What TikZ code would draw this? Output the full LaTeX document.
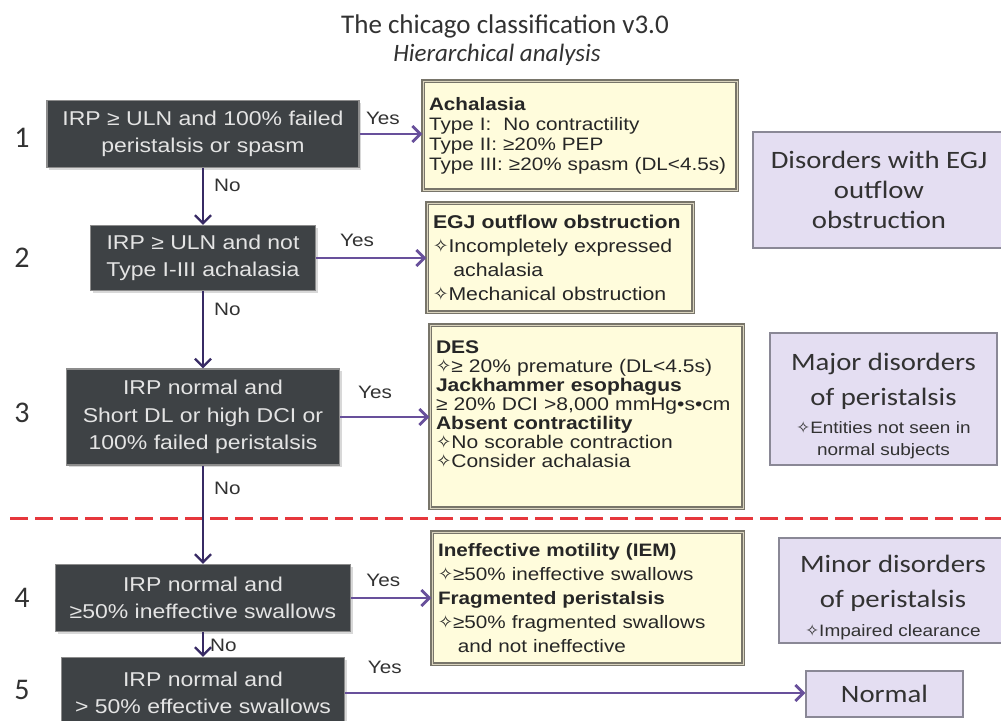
\documentclass[tikz,border=0pt]{standalone}
\usepackage{fontspec}
\setmainfont[FakeStretch=1.15]{Liberation Sans}
\newfontfamily\calfont[FakeStretch=1.15]{Carlito}
\newfontfamily\headfont{Carlito}
\newfontfamily\symfont{DejaVu Sans}
\usetikzlibrary{arrows.meta,shadows}

\definecolor{qfill}{RGB}{62,66,69}
\definecolor{qrim}{RGB}{140,140,140}
\definecolor{qtext}{RGB}{228,228,228}
\definecolor{rfill}{RGB}{255,252,220}
\definecolor{rrim}{RGB}{120,117,106}
\definecolor{rinner}{RGB}{218,212,190}
\definecolor{gfill}{RGB}{228,222,242}
\definecolor{grim}{RGB}{138,136,150}
\definecolor{yescol}{RGB}{104,80,155}
\definecolor{nocol}{RGB}{55,42,100}
\definecolor{inkgray}{RGB}{50,50,50}
\definecolor{cutred}{RGB}{230,55,60}

\newcommand{\sbul}{{\symfont ✧}}
\newcommand{\smallnote}{\rmfamily\fontsize{16.5}{21}\selectfont}

\begin{document}
\begin{tikzpicture}[x=1pt, y=-1pt,
    question/.style={fill=qfill, draw=qrim, line width=1.5pt, text=qtext, align=center,
        font=\fontsize{20}{27.5}\selectfont,
        drop shadow={shadow xshift=2pt, shadow yshift=-2pt, opacity=0.3}},
    result/.style={fill=rfill, draw=rrim, line width=1.2pt, double=rinner, double distance=1pt,
        text=black!85, align=left, inner xsep=6pt},
    group/.style={fill=gfill, draw=grim, line width=1.5pt, text=inkgray, align=center,
        font=\calfont\fontsize{25}{35}\selectfont},
    yesarrow/.style={-{Straight Barb[length=8pt,width=16pt]}, yescol, line width=2.8pt},
    noarrow/.style={-{Straight Barb[length=8pt,width=16pt]}, nocol, line width=2.2pt},
    lbl/.style={text=inkgray, font=\fontsize{18}{20}\selectfont, inner sep=2pt},
    stepno/.style={text=inkgray, font=\headfont\fontsize{30}{32}\selectfont},
  ]
    \useasboundingbox (0,0) rectangle (1001,720);
    \clip (0,0) rectangle (1001,720);
    \fill[white] (0,0) rectangle (1001,720);

    % heading
    \node[text=inkgray, font=\headfont\fontsize{27}{30}\selectfont] (title) at (505,26)
        {The chicago classification v3.0};
    \node[text=inkgray, font=\headfont\itshape\fontsize{25}{28}\selectfont] (subtitle) at (497,55)
        {Hierarchical analysis};

    % step numbers
    \node[stepno] (n1) at (22,138) {1};
    \node[stepno] (n2) at (22,258) {2};
    \node[stepno] (n3) at (22,413) {3};
    \node[stepno] (n4) at (22,598) {4};
    \node[stepno] (n5) at (22,690) {5};

    % questions
    \node[question, minimum width=312pt, minimum height=67pt] (q1) at (203,134)
        {IRP ≥ ULN and 100\% failed\\peristalsis or spasm};
    \node[question, minimum width=225pt, minimum height=65pt] (q2) at (203,258)
        {IRP ≥ ULN and not\\Type I-III achalasia};
    \node[question, minimum width=273pt, minimum height=96pt] (q3) at (203,417)
        {IRP normal and\\Short DL or high DCI or\\100\% failed peristalsis};
    \node[question, minimum width=295pt, minimum height=67pt] (q4) at (203,598)
        {IRP normal and\\≥50\% ineffective swallows};
    \node[question, minimum width=283pt, minimum height=71pt] (q5) at (203,693)
        {IRP normal and\\> 50\% effective swallows};

    % diagnoses
    \node[result, text width=302pt, minimum height=109pt, font=\fontsize{18}{20}\selectfont]
        (r1) at (580,135.5)
        {\textbf{Achalasia}\\
         Type I:\ \ No contractility\\
         Type II: ≥20\% PEP\\
         Type III: ≥20\% spasm (DL<4.5s)};
    \node[result, text width=254pt, minimum height=109pt, font=\fontsize{18.5}{24}\selectfont]
        (r2) at (560,257.5)
        {\textbf{EGJ outflow obstruction}\\
         \sbul Incompletely expressed\\
         \hspace*{1.1em}achalasia\\
         \sbul Mechanical obstruction};
    \node[result, text width=301pt, minimum height=183pt, font=\fontsize{18.3}{19}\selectfont]
        (r3) at (586.5,416.5)
        {\textbf{DES}\\
         \sbul≥ 20\% premature (DL<4.5s)\\
         \textbf{Jackhammer esophagus}\\
         ≥ 20\% DCI >8,000 mmHg•s•cm\\
         \textbf{Absent contractility}\\
         \sbul No scorable contraction\\
         \sbul Consider achalasia\par\vspace*{25pt}};
    \node[result, text width=299pt, minimum height=132pt, font=\fontsize{18}{24}\selectfont]
        (r4) at (587.5,598)
        {\textbf{Ineffective motility (IEM)}\\
         \sbul≥50\% ineffective swallows\\
         \textbf{Fragmented peristalsis}\\
         \sbul≥50\% fragmented swallows\\
         \hspace*{1.1em}and not ineffective};

    % groups
    \node[group, minimum width=252pt, minimum height=116pt, font=\calfont\fontsize{25}{30}\selectfont]
        (g1) at (879,190) {Disorders with EGJ\\outflow\\obstruction};
    \node[group, minimum width=227pt, minimum height=132pt] (g2) at (883.5,399)
        {\rule{0pt}{31pt}Major disorders\\of peristalsis\\[-7pt]\smallnote\sbul Entities not seen in\\[-13pt]\smallnote normal subjects};
    \node[group, minimum width=228pt, minimum height=105pt] (g3) at (893,590.5)
        {\rule{0pt}{31pt}Minor disorders\\of peristalsis\\[-6pt]\smallnote\sbul Impaired clearance};
    \node[group, minimum width=157pt, minimum height=46pt] (nrm) at (884.5,694) {Normal};

    % cut between major and minor
    \draw[cutred, line width=3pt, dash pattern=on 18pt off 7pt] (10,518) -- (1001,518);

    % no branches
    \draw[noarrow] (q1) -- (q2) node[lbl, pos=0.31, right=8pt] {No};
    \draw[noarrow] (q2) -- (q3) node[lbl, pos=0.23, right=8pt] {No};
    \draw[noarrow] (q3) -- (q4) node[lbl, pos=0.23, right=8pt] {No};
    \draw[noarrow] (q4) -- (q5) node[lbl, pos=0.52, right=4pt] {No};

    % yes branches
    \draw[yesarrow] (q1.east) -- (q1.east -| r1.west) node[lbl, pos=0.37, above=6pt] {Yes};
    \draw[yesarrow] (q2.east) -- (q2.east -| r2.west) node[lbl, pos=0.37, above=8pt] {Yes};
    \draw[yesarrow] (q3.east) -- (q3.east -| r3.west) node[lbl, pos=0.39, above=15pt] {Yes};
    \draw[yesarrow] (q4.east) -- (q4.east -| r4.west) node[lbl, pos=0.40, above=8pt] {Yes};
    \draw[yesarrow] (q5.east) -- (q5.east -| nrm.west) node[lbl, pos=0.086, above=16pt] {Yes};
\end{tikzpicture}
\end{document}
